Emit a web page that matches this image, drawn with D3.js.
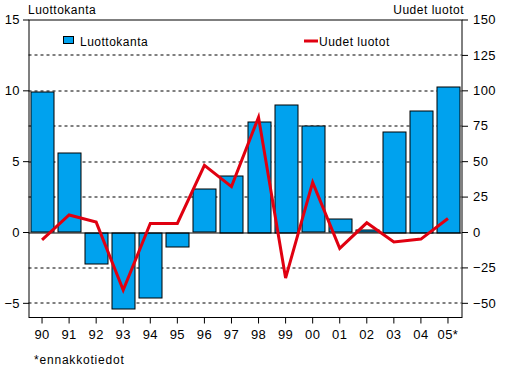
<!DOCTYPE html>
<html>
<head>
<meta charset="utf-8">
<script src="https://cdn.jsdelivr.net/npm/d3@7"></script>
<style>
  body { margin: 0; background: #fff; }
  text { font-family: "Liberation Sans", Arial, sans-serif; }
</style>
</head>
<body>
<svg id="chart" width="526" height="367"></svg>
<script>
var years = ["90", "91", "92", "93", "94", "95", "96", "97", "98", "99", "00", "01", "02", "03", "04", "05*"];
var luottokanta = [9.9, 5.6, -2.2, -5.35, -4.6, -1.0, 3.05, 4.0, 7.8, 9.0, 7.5, 0.95, 0.15, 7.1, 8.6, 10.3];
var uudetLuotot = [-5.5, 12, 7, -41, 6, 6, 47, 32, 81, -32.5, 35, -11.5, 6.5, -7, -5, 9.5];
var leftTicks = [-5, 0, 5, 10, 15];
var rightTicks = [-50, -25, 0, 25, 50, 75, 100, 125, 150];
var gridValues = [-5, -2.5, 2.5, 5, 7.5, 10, 12.5];

var svg = d3.select("#chart"),
    margin = {top: 19.5, right: 64.5, bottom: 50, left: 28.5},
    width = +svg.attr("width") - margin.left - margin.right,
    height = +svg.attr("height") - margin.top - margin.bottom,
    g = svg.append("g").attr("transform", "translate(" + margin.left + "," + margin.top + ")");

var x = d3.scaleBand()
    .domain(years)
    .range([0, width])
    .paddingInner(0.15)
    .paddingOuter(0.075);

var y = d3.scaleLinear().domain([-6, 15]).range([height, 0]);
var y2 = d3.scaleLinear().domain([-60, 150]).range([height, 0]);

// dashed grid
g.append("g")
    .selectAll("line")
    .data(gridValues)
    .enter().append("line")
    .attr("x1", 0)
    .attr("x2", width)
    .attr("y1", function(d) { return Math.round(y(d)) + 0.5; })
    .attr("y2", function(d) { return Math.round(y(d)) + 0.5; })
    .attr("stroke", "#000")
    .attr("stroke-dasharray", "3,3");

// bars
g.append("g")
    .selectAll("rect")
    .data(luottokanta)
    .enter().append("rect")
    .attr("x", function(d, i) { return Math.round(x(years[i])) + 0.5; })
    .attr("width", Math.round(x.bandwidth()))
    .attr("y", function(d) { return Math.round(y(Math.max(0, d))) + 0.5; })
    .attr("height", function(d) { return Math.round(Math.abs(y(d) - y(0))); })
    .attr("fill", "#00A2EE")
    .attr("stroke", "#000")
    .attr("stroke-width", 1);

// zero line
g.append("line")
    .attr("x1", 0)
    .attr("x2", width)
    .attr("y1", Math.round(y(0)) + 0.5)
    .attr("y2", Math.round(y(0)) + 0.5)
    .attr("stroke", "#000");

// line
var line = d3.line()
    .x(function(d, i) { return x(years[i]) + x.bandwidth() / 2; })
    .y(function(d) { return y2(d); });

g.append("path")
    .datum(uudetLuotot)
    .attr("fill", "none")
    .attr("stroke", "#E00010")
    .attr("stroke-width", 3)
    .attr("stroke-linejoin", "miter")
    .attr("d", line);

// frame
g.append("rect")
    .attr("x", 0.5)
    .attr("y", 0.5)
    .attr("width", width)
    .attr("height", height)
    .attr("fill", "none")
    .attr("stroke", "#000");

// left axis
var leftAxis = g.append("g")
    .attr("transform", "translate(0.5,0)")
    .call(d3.axisLeft(y).tickValues(leftTicks).tickSize(6).tickSizeOuter(0).tickFormat(d3.format("d")));
leftAxis.select(".domain").remove();

// right axis
var rightAxis = g.append("g")
    .attr("transform", "translate(" + (width + 0.5) + ",0)")
    .call(d3.axisRight(y2).tickValues(rightTicks).tickSize(6).tickSizeOuter(0).tickFormat(d3.format("d")));
rightAxis.select(".domain").remove();

// bottom axis
var bottomAxis = g.append("g")
    .attr("transform", "translate(0," + (height + 0.5) + ")")
    .call(d3.axisBottom(x).tickSize(6).tickSizeOuter(0).tickPadding(6));
bottomAxis.select(".domain").remove();

g.selectAll(".tick text")
    .attr("font-size", 13)
    .attr("letter-spacing", "0.4px")
    .attr("font-family", "Liberation Sans, Arial, sans-serif")
    .attr("fill", "#000");
g.selectAll(".tick line").attr("stroke", "#000");
leftAxis.selectAll(".tick text").attr("x", -9);
rightAxis.selectAll(".tick text").attr("x", 11);

// axis titles
svg.append("text")
    .attr("x", 28)
    .attr("y", 14)
    .attr("font-size", 12)
    .attr("letter-spacing", "0.5px")
    .text("Luottokanta");

svg.append("text")
    .attr("x", 464)
    .attr("y", 14)
    .attr("text-anchor", "end")
    .attr("font-size", 12)
    .attr("letter-spacing", "0.5px")
    .text("Uudet luotot");

svg.append("text")
    .attr("x", 34)
    .attr("y", 364)
    .attr("font-size", 12)
    .attr("letter-spacing", "0.8px")
    .text("*ennakkotiedot");

// legend
var legend = svg.append("g").attr("font-size", 12).attr("letter-spacing", "0.5px");
legend.append("rect")
    .attr("x", 63.5)
    .attr("y", 36.5)
    .attr("width", 10)
    .attr("height", 7)
    .attr("fill", "#00A2EE")
    .attr("stroke", "#000");
legend.append("text")
    .attr("x", 80)
    .attr("y", 46)
    .text("Luottokanta");
legend.append("line")
    .attr("x1", 304)
    .attr("x2", 318)
    .attr("y1", 41)
    .attr("y2", 41)
    .attr("stroke", "#E00010")
    .attr("stroke-width", 3);
legend.append("text")
    .attr("x", 319)
    .attr("y", 46)
    .text("Uudet luotot");
</script>
</body>
</html>
